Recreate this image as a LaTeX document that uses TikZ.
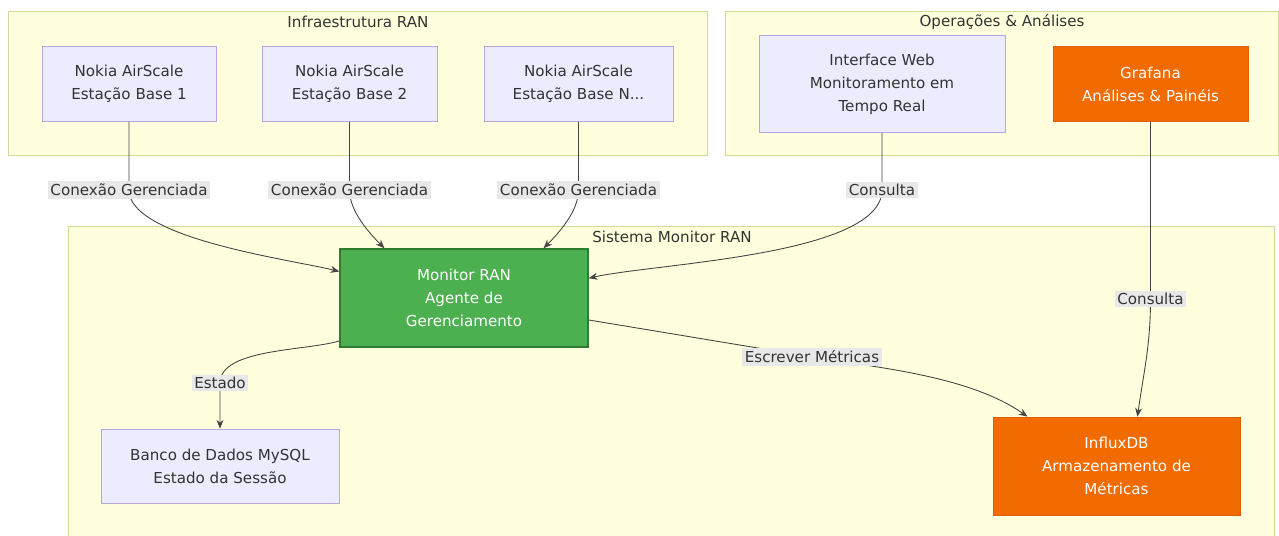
\documentclass[tikz,border=0pt]{standalone}
\usepackage{fontspec}
\setmainfont{DejaVu Sans}
\usetikzlibrary{arrows.meta}
\definecolor{grpfill}{HTML}{FFFFDE}
\definecolor{grpline}{HTML}{D8D89A}
\definecolor{svcfill}{HTML}{ECECFF}
\definecolor{svcline}{HTML}{B9A6E6}
\definecolor{orgfill}{HTML}{F26B00}
\definecolor{orgline}{HTML}{D95F00}
\definecolor{monfill}{HTML}{4CAF50}
\definecolor{monline}{HTML}{2E7D32}
\definecolor{lblfill}{HTML}{E8E8E8}
\definecolor{txt}{HTML}{333333}
\definecolor{edge}{HTML}{444444}

\begin{document}
\begin{tikzpicture}[x=0.02cm,y=-0.02cm]
\tikzstyle{every node}+=[font=\fontsize{8.6}{13}\selectfont, text=txt]
\tikzstyle{grp}=[draw=grpline, fill=grpfill]
\tikzstyle{svc}=[draw=svcline, fill=svcfill, align=center, inner sep=0pt]
\tikzstyle{hot}=[draw=orgline, fill=orgfill, text=white, align=center, inner sep=0pt]
\tikzstyle{lbl}=[fill=lblfill, inner sep=1.5pt]
\tikzstyle{conn}=[draw=edge, line width=0.5pt, -{Stealth[length=5pt,width=4pt]}]
\useasboundingbox (0,0) rectangle (1279,536);
\fill [white] (0,0) rectangle (1279,536);
% subgraphs
\draw [grp] (8,11) rectangle (707,155);
\draw (358,22) node (tinfra) {Infraestrutura RAN};
\draw [grp] (725,11) rectangle (1278,155);
\draw (1002,22) node (tops) {Operações \& Análises};
\draw [grp] (68,226) rectangle (1274,545);
\draw (672,237) node (tmon) {Sistema Monitor RAN};
% nodes
\node [svc, minimum width=3.48cm, minimum height=1.5cm] (bs1) at (129,84) {Nokia AirScale\\Estação Base 1};
\node [svc, minimum width=3.5cm, minimum height=1.5cm] (bs2) at (349.5,84) {Nokia AirScale\\Estação Base 2};
\node [svc, minimum width=3.78cm, minimum height=1.5cm] (bsn) at (578.5,84) {Nokia AirScale\\Estação Base N...};
\node [svc, minimum width=4.92cm, minimum height=1.94cm] (web) at (882,84) {Interface Web\\Monitoramento em\\Tempo Real};
\node [hot, minimum width=3.9cm, minimum height=1.5cm] (graf) at (1150.5,84) {Grafana\\Análises \& Painéis};
\node [draw=monline, fill=monfill, text=white, align=center, inner sep=0pt, line width=0.8pt,
  minimum width=4.96cm, minimum height=1.96cm] (mon) at (464,298) {Monitor RAN\\Agente de\\Gerenciamento};
\node [svc, minimum width=4.76cm, minimum height=1.48cm] (mysql) at (220,466) {Banco de Dados MySQL\\Estado da Sessão};
\node [hot, minimum width=4.94cm, minimum height=1.96cm] (infl) at (1116.5,466) {InfluxDB\\Armazenamento de\\Métricas};
% label points
\coordinate (k1) at (129,190);
\coordinate (k2) at (349.5,190);
\coordinate (k3) at (578.5,190);
\coordinate (k4) at (882,190);
\coordinate (k5) at (1150.5,299);
\coordinate (k6) at (812,357);
\coordinate (k7) at (220,383);
% connectors
\draw [conn] (bs1) -- (k1) node [lbl] {Conexão Gerenciada} to[out=-90, in=166, looseness=0.55] (mon.168);
\draw [conn] (bs2) -- (k2) node [lbl] {Conexão Gerenciada} to[out=-90, in=135, looseness=0.8] (mon.148);
\draw [conn] (bsn) -- (k3) node [lbl] {Conexão Gerenciada} to[out=-90, in=45, looseness=0.8] (mon.32);
\draw [conn] (web) -- (k4) node [lbl] {Consulta} to[out=-90, in=13, looseness=0.55] (mon.9);
\draw [conn] (graf) -- (k5) node [lbl] {Consulta} to[out=-90, in=82] (infl.67);
\draw [conn] (mon.350) -- (k6) node [lbl] {Escrever Métricas} to[out=-9, in=145, looseness=0.8] (infl.151);
\draw [conn] (mon.199) to[out=197, in=90, looseness=0.7] (k7) node [lbl] {Estado} -- (mysql);
\end{tikzpicture}
\end{document}
